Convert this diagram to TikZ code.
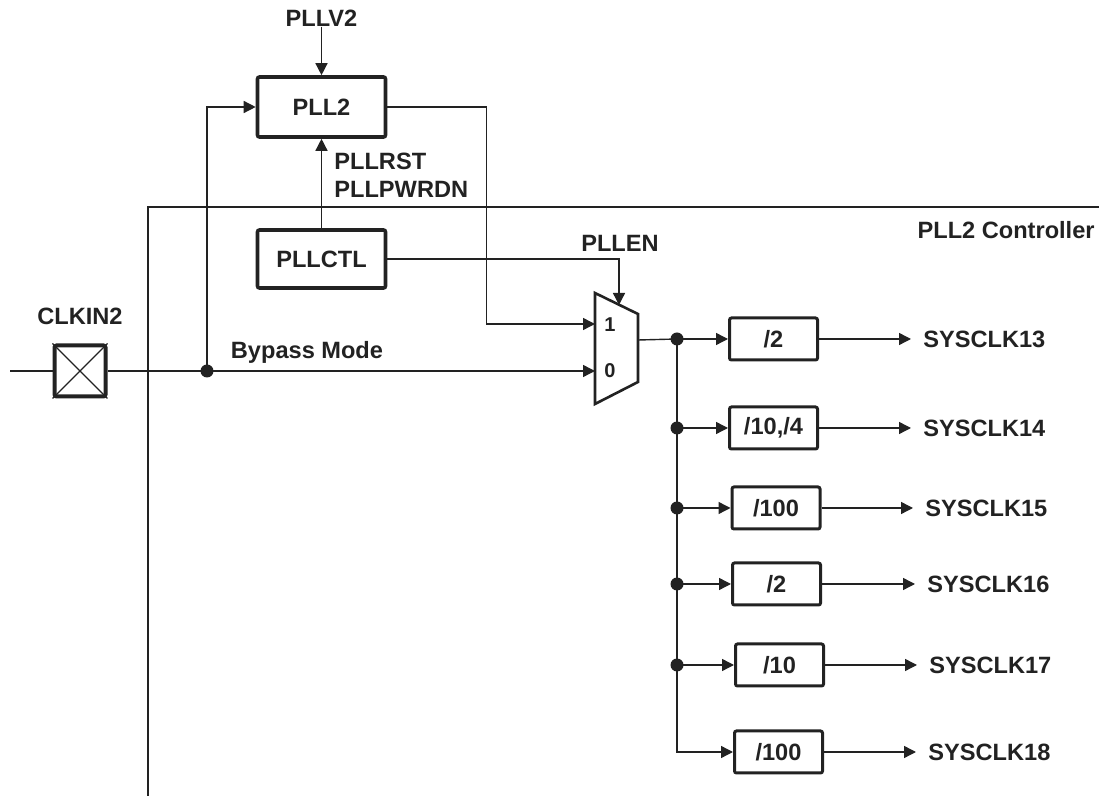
\documentclass[tikz,border=0pt]{standalone}
\usepackage{fontspec}
\setmainfont{Liberation Sans}
\usetikzlibrary{arrows.meta,positioning}
\definecolor{ink}{HTML}{222222}

\begin{document}
\begin{tikzpicture}[x=0.5pt,y=-0.5pt,
	font=\fontsize{11.8}{14}\selectfont\bfseries,
	blk/.style={draw=ink,line width=1.8pt,rounded corners=1pt,minimum width=64pt,minimum height=30pt,inner sep=0pt,text=ink},
	divbox/.style={draw=ink,line width=1.5pt,rounded corners=1pt,minimum width=44pt,minimum height=21pt,inner sep=0pt,text=ink},
	lbl/.style={inner sep=0pt,text=ink,align=left},
	wire/.style={draw=ink,line width=0.7pt},
	arr/.style={-{Triangle[length=6pt,width=6pt]},draw=ink,line width=0.7pt},
	jdot/.style={circle,fill=ink,minimum size=6.5pt,inner sep=0pt}
	]
	\useasboundingbox (0,0) rectangle (1099,796);
	% controller outline
	\draw[ink,line width=0.7pt] (148,796) -- (148,207) -- (1099,207);
	\node[lbl,anchor=east] (ctrl) at (1095,230) {PLL2 Controller};

	% clock input
	\coordinate (in) at (10,371);
	\node[draw=ink,line width=2pt,rounded corners=1pt,minimum size=25.5pt,inner sep=0pt] (clk) at (80,371) {};
	\draw[ink,line width=0.6pt] (clk.north west) -- (clk.south east) (clk.north east) -- (clk.south west);
	\node[lbl] (clkname) [above=9pt of clk] {CLKIN2};

	% pll and control
	\node[blk] (pll2) at (321.5,107) {PLL2};
	\node[blk,minimum height=29pt] (pllctl) at (321.5,259) {PLLCTL};
	\node[lbl] (pllv) at (321.5,18) {PLLV2};
	\node[lbl,anchor=west] (rst) at (334,175) {PLLRST\\PLLPWRDN};
	\node[lbl] (byp) at (307,352) {Bypass Mode};
	\node[lbl] (en) at (620,243) {PLLEN};

	% mux
	\draw[ink,line width=1.3pt,fill=white] (595,293) -- (638,314) -- (638,382) -- (595,404) -- cycle;
	\coordinate (mux1) at (595,324);
	\coordinate (mux0) at (595,371);
	\coordinate (muxen) at (619,305);
	\coordinate (muxout) at (638,340);
	\node[lbl,font=\fontsize{10}{12}\selectfont\bfseries] (m1) at (610,325) {1};
	\node[lbl,font=\fontsize{10}{12}\selectfont\bfseries] (m0) at (610,371) {0};

	\node[jdot] (j0) at (207,371) {};
	\draw[wire] (in) -- (clk);
	\draw[arr] (clk) -- (mux0);
	\draw[arr] (j0.center) |- (pll2);
	\draw[arr] (pllv) -- (pll2);
	\draw[arr] (pllctl) -- (pll2);
	\draw[arr] (pll2.east) -- ++(99,0) |- (mux1);
	\draw[arr] (pllctl.east) -| (muxen);

	% dividers
	\node[divbox] (d13) at (773.5,339) {/2};
	\node[divbox] (d14) at (773.5,428) {/10,/4};
	\node[divbox] (d15) at (776,508) {/100};
	\node[divbox] (d16) at (776.5,584) {/2};
	\node[divbox] (d17) at (779.5,665) {/10};
	\node[divbox] (d18) at (778.5,752) {/100};

	\node[lbl,anchor=west] (s13) at (923,339) {SYSCLK13};
	\node[lbl,anchor=west] (s14) at (923,428) {SYSCLK14};
	\node[lbl,anchor=west] (s15) at (925,508) {SYSCLK15};
	\node[lbl,anchor=west] (s16) at (927,584) {SYSCLK16};
	\node[lbl,anchor=west] (s17) at (929,665) {SYSCLK17};
	\node[lbl,anchor=west] (s18) at (928,752) {SYSCLK18};

	\node[jdot] (j1) at (677,339) {};
	\node[jdot] (j2) at (677,428) {};
	\node[jdot] (j3) at (677,508) {};
	\node[jdot] (j4) at (677,584) {};
	\node[jdot] (j5) at (677,665) {};

	\draw[wire] (muxout) -- (j1.center);
	\draw[wire] (j1.center) -- (j5.center);
	\draw[arr] (j5.center) |- (d18);
	\draw[arr] (j1.center) -- (d13);
	\draw[arr] (j2.center) -- (d14);
	\draw[arr] (j3.center) -- (d15);
	\draw[arr] (j4.center) -- (d16);
	\draw[arr] (j5.center) -- (d17);

	\draw[arr,shorten >=6pt] (d13) -- (s13);
	\draw[arr,shorten >=6pt] (d14) -- (s14);
	\draw[arr,shorten >=6pt] (d15) -- (s15);
	\draw[arr,shorten >=6pt] (d16) -- (s16);
	\draw[arr,shorten >=6pt] (d17) -- (s17);
	\draw[arr,shorten >=6pt] (d18) -- (s18);
\end{tikzpicture}
\end{document}
